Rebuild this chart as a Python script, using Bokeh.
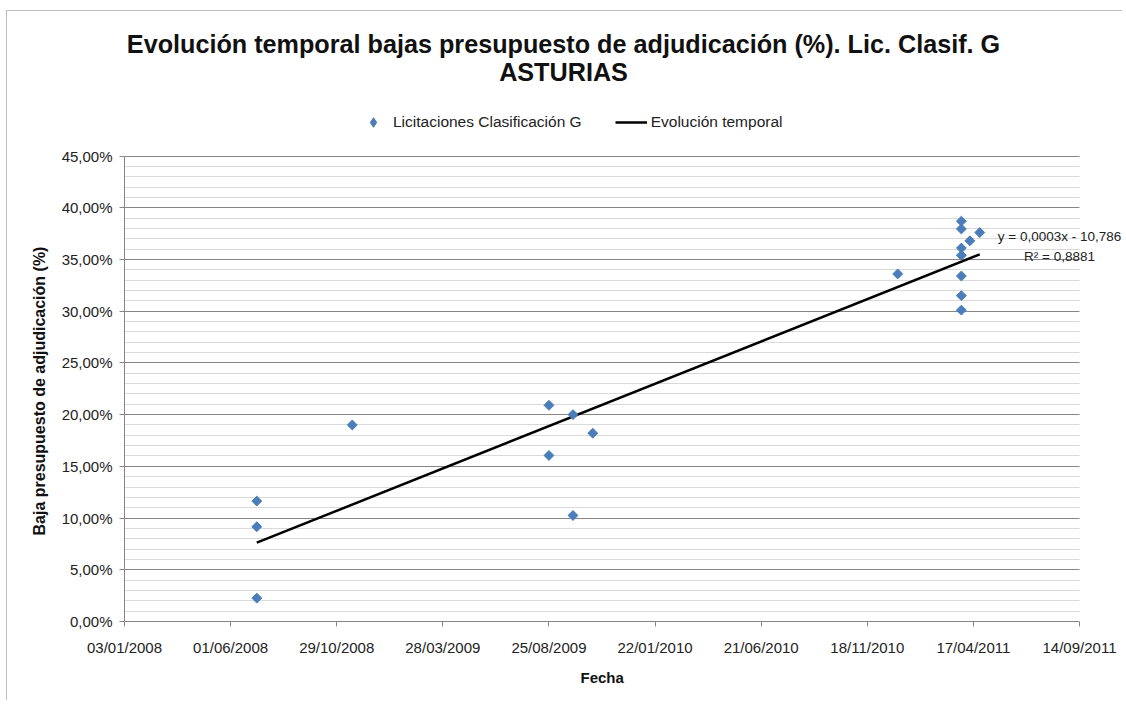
import numpy as np
import pandas as pd
from bokeh.plotting import figure
from bokeh.models import (FixedTicker, CustomJSTickFormatter, DatetimeTickFormatter, Title,
                          Label, Legend, LegendItem, ColumnDataSource, Range1d, BoxAnnotation)
from bokeh.embed import file_html
from bokeh.resources import INLINE

# ---------------- data ----------------
fechas = ["2008-07-08", "2008-07-08", "2008-07-08",
          "2008-11-20",
          "2009-08-25", "2009-08-25",
          "2009-09-28", "2009-09-28",
          "2009-10-26",
          "2010-12-31",
          "2011-03-31", "2011-03-31", "2011-03-31", "2011-03-31",
          "2011-03-31", "2011-03-31", "2011-03-31",
          "2011-04-12", "2011-04-26"]
bajas = [11.64, 9.16, 2.26,
         19.0,
         20.9, 16.05,
         20.0, 10.25,
         18.2,
         33.6,
         38.7, 37.95, 36.1, 35.4, 33.4, 31.5, 30.1,
         36.8, 37.6]
x_tick_labels = ["03/01/2008", "01/06/2008", "29/10/2008", "28/03/2009", "25/08/2009",
                 "22/01/2010", "21/06/2010", "18/11/2010", "17/04/2011", "14/09/2011"]
y_ticks = [0, 5, 10, 15, 20, 25, 30, 35, 40, 45]
y_minor = [v for v in range(0, 46) if v % 5 != 0]
titulo_1 = "Evolución temporal bajas presupuesto de adjudicación (%). Lic. Clasif. G"
titulo_2 = "ASTURIAS"
eje_x = "Fecha"
eje_y = "Baja presupuesto de adjudicación (%)"
ecuacion = "y = 0,0003x - 10,786"
r2_texto = "R² = 0,8881"

FONT = "Liberation Sans"
BLUE = "#4a7dba"

# ---------------- layout (pixels) ----------------
W, H = 1116, 690
BORDER_L, BORDER_B = 117, 80
FRAME_W, FRAME_H = W - BORDER_L, H - BORDER_B
AXIS_W_PX, AXIS_H_PX = 955.0, 465.5   # pixel length of the visible axes

x = pd.to_datetime(fechas)
xt = pd.to_datetime(x_tick_labels, format="%d/%m/%Y")
xt_ms = [float(t.value // 10**6) for t in xt]
x_end = xt_ms[0] + (xt_ms[-1] - xt_ms[0]) * FRAME_W / AXIS_W_PX
y_end = y_ticks[-1] * FRAME_H / AXIS_H_PX

# linear trend (least squares on days)
days = np.array([(d - x.min()).days for d in x], dtype=float)
slope, intercept = np.polyfit(days, np.array(bajas), 1)
tx = [x.min(), x.max()]
ty = [intercept, intercept + slope * days.max()]

src = ColumnDataSource(dict(x=x, y=bajas))

p = figure(width=W, height=H, output_backend="svg", toolbar_location=None,
           x_axis_type="datetime",
           x_range=Range1d(xt_ms[0], x_end), y_range=Range1d(0, y_end),
           min_border_left=BORDER_L, min_border_right=0, min_border_top=0,
           min_border_bottom=BORDER_B)
p.styles = {"border-left": "1px solid #bfbfbf", "border-top": "1px solid #bfbfbf",
            "margin-left": "6px", "margin-top": "10px"}
p.outline_line_color = None
p.background_fill_color = "white"

trend = p.line(tx, ty, line_color="black", line_width=2.5)
pts = p.scatter("x", "y", source=src, marker="square", angle=np.pi / 4, size=7,
                fill_color=BLUE, line_color=BLUE)
# hidden renderer used only for the legend swatch (a diamond)
pts_key = p.scatter("x", "y", source=src, marker="diamond", size=9,
                    fill_color=BLUE, line_color=BLUE, visible=False)

# axes
p.xaxis.ticker = FixedTicker(ticks=xt_ms)
p.xaxis.bounds = (xt_ms[0], xt_ms[-1])
fmt = "%d/%m/%Y"
p.xaxis.formatter = DatetimeTickFormatter(milliseconds=fmt, seconds=fmt, minsec=fmt, minutes=fmt,
                                          hourmin=fmt, hours=fmt, days=fmt, months=fmt, years=fmt)
yt = FixedTicker(ticks=y_ticks, minor_ticks=y_minor)
p.yaxis.ticker = yt
p.yaxis.bounds = (y_ticks[0], y_ticks[-1])
p.ygrid.ticker = yt
p.yaxis.formatter = CustomJSTickFormatter(code="return tick.toFixed(2).replace('.', ',') + '%';")

for ax in (p.xaxis[0], p.yaxis[0]):
    ax.axis_line_color = "#868686"
    ax.major_tick_line_color = "#868686"
    ax.major_tick_out = 5
    ax.major_tick_in = 0
    ax.minor_tick_line_color = None
    ax.major_label_text_font = FONT
    ax.major_label_text_font_size = "15px"
    ax.major_label_text_color = "#222222"

p.xaxis.major_label_standoff = 12
p.yaxis.major_label_standoff = 7

# axis titles centred on the visible axes
p.add_layout(Title(text=eje_y, align="left", offset=86, vertical_align="bottom", standoff=21,
                   text_font=FONT, text_font_size="16px", text_font_style="bold",
                   text_color="#111111"), "left")
p.add_layout(Title(text=eje_x, align="left", offset=456, vertical_align="top", standoff=20,
                   text_font=FONT, text_font_size="15px", text_font_style="bold",
                   text_color="#111111"), "below")

p.xgrid.visible = False
p.ygrid.grid_line_color = "#868686"
p.ygrid.minor_grid_line_color = "#d9d9d9"
p.ygrid.minor_grid_line_width = 1

# hide the grid beyond the last date (area used by the trend label)
p.add_layout(BoxAnnotation(left=xt_ms[-1], bottom=-1, top=y_ticks[-1] + 1,
                           fill_color="white", fill_alpha=1, line_color=None))

# legend (screen position relative to the frame)
legend = Legend(items=[LegendItem(label="Licitaciones Clasificación G", renderers=[pts_key]),
                       LegendItem(label="Evolución temporal", renderers=[trend])],
                location=(233, 487), orientation="horizontal",
                glyph_width=32, glyph_height=24, label_standoff=4, spacing=33,
                padding=0, margin=0, border_line_color=None, background_fill_alpha=0,
                inactive_fill_alpha=0,
                label_text_font=FONT, label_text_font_size="15.5px", label_text_color="#222222",
                label_height=24)
p.add_layout(legend, "center")

# titles
for txt, yy in ((titulo_1, 578), (titulo_2, 550)):
    p.add_layout(Label(x=439, y=yy, x_units="screen", y_units="screen", text=txt,
                       text_align="center", text_baseline="alphabetic",
                       text_font=FONT, text_font_size="25.2px", text_font_style="bold",
                       text_color="#111111"))

# trend equation
for txt, yy in ((ecuacion, 385), (r2_texto, 365)):
    p.add_layout(Label(x=935, y=yy, x_units="screen", y_units="screen", text=txt,
                       text_align="center", text_baseline="middle",
                       text_font=FONT, text_font_size="13.5px", text_color="#222222"))

open("out.html", "w").write(file_html(p, INLINE))
